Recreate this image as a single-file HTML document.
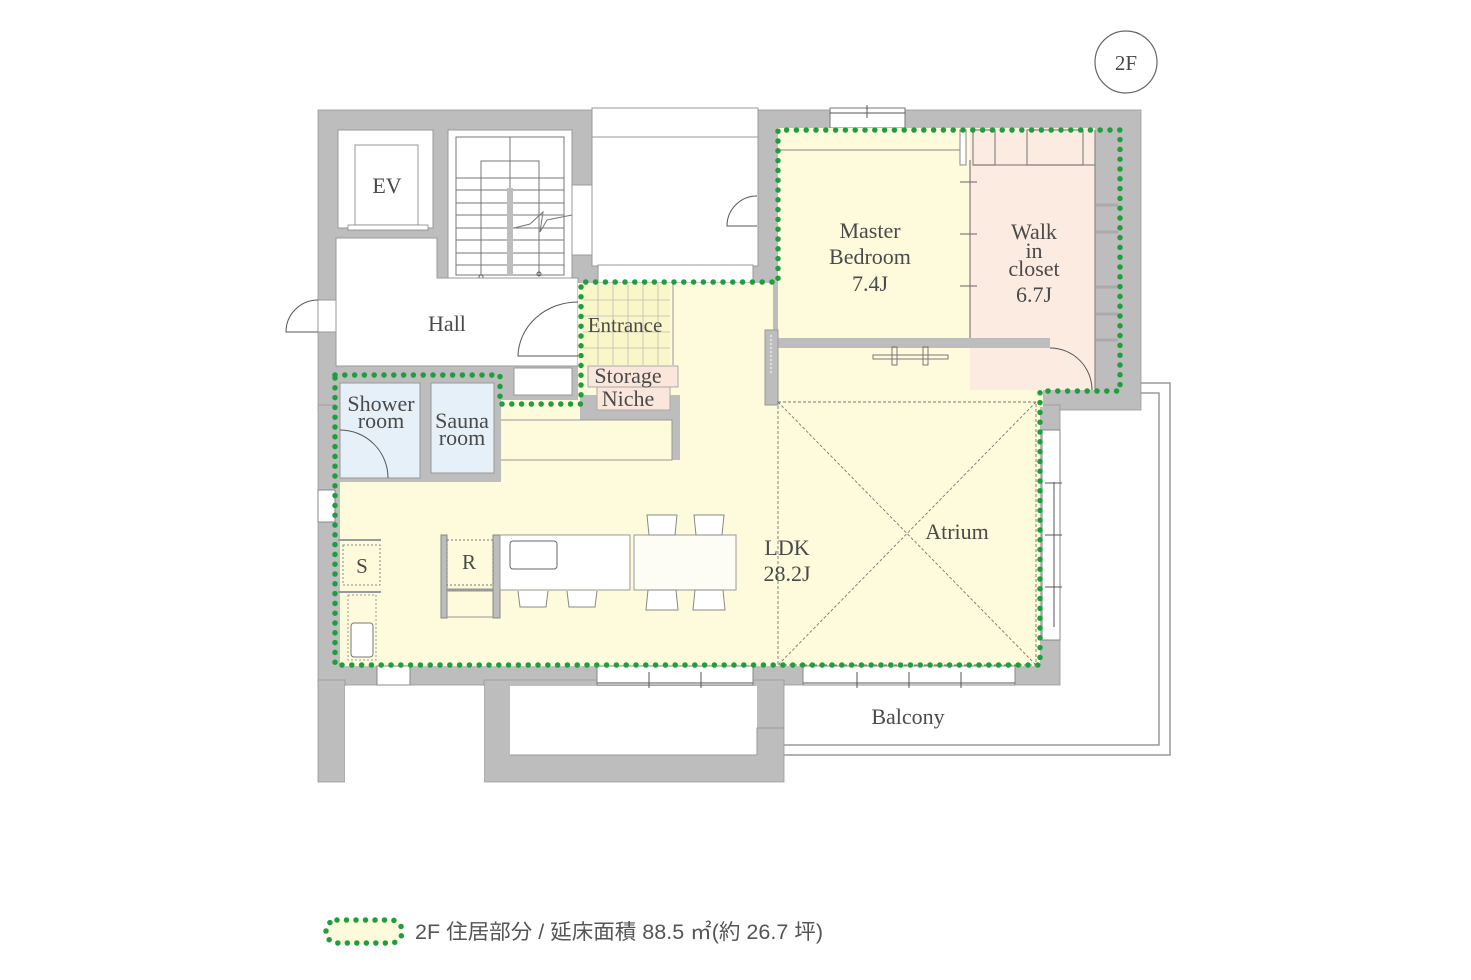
<!DOCTYPE html>
<html><head><meta charset="utf-8"><style>
html,body{margin:0;padding:0;background:#fff}
svg{display:block}
text{font-family:"Liberation Serif",serif;fill:#4a4a4a}
</style></head><body>
<svg width="1471" height="980" viewBox="0 0 1471 980" xmlns="http://www.w3.org/2000/svg">
<circle cx="1126" cy="62" r="31" fill="none" stroke="#666" stroke-width="1.2"/>
<text x="1126" y="70" font-size="21" text-anchor="middle">2F</text>

<path d="M1141 383 H1170 V755 H784" fill="none" stroke="#999" stroke-width="1.5"/>
<path d="M1141 393 H1159 V745 H784" fill="none" stroke="#999" stroke-width="1.5"/>

<g fill="#bdbdbd" stroke="#999" stroke-width="0.8">
<rect x="318" y="110" width="823" height="300"/>
<rect x="318" y="405" width="742" height="280"/>
<rect x="318" y="680" width="27" height="102"/>
<path d="M484 680 H784 V782 H484 Z"/>
</g>
<rect x="345" y="686" width="139" height="100" fill="#fff"/>
<rect x="510" y="686" width="247" height="69" fill="#fff"/>
<path d="M510 755 H757 V728 H784" fill="none" stroke="#999" stroke-width="1"/>

<rect x="592" y="108" width="166" height="158" fill="#fff" stroke="#999"/>
<rect x="598" y="265" width="155" height="18" fill="#fff" stroke="#999"/>
<line x1="592" y1="137" x2="758" y2="137" stroke="#999"/>
<path d="M757 196 A30 30 0 0 0 727 226 H757" fill="none" stroke="#555"/>
<rect x="572" y="185" width="20" height="70" fill="#fff" stroke="#999"/>

<rect x="830" y="108" width="75" height="20" fill="#fff" stroke="#777"/>
<line x1="830" y1="113" x2="905" y2="113" stroke="#555"/>
<line x1="867" y1="105" x2="867" y2="118" stroke="#555"/>

<rect x="338" y="130" width="95" height="98" fill="#fff" stroke="#999"/>
<rect x="355" y="145" width="63" height="80" fill="#fff" stroke="#999"/>
<text x="387" y="193" font-size="22" text-anchor="middle">EV</text>
<rect x="348" y="225" width="80" height="5" fill="#fff" stroke="#888" stroke-width="0.8"/>

<rect x="448" y="130" width="124" height="148" fill="#fff" stroke="#999"/>
<rect x="456" y="137" width="108" height="138" fill="#fff" stroke="#777"/>
<g stroke="#777" stroke-width="1">
<line x1="510" y1="137" x2="510" y2="275"/>
<path d="M481 275 V161 H539 V275" fill="none"/>
<line x1="456" y1="178" x2="564" y2="178"/><line x1="456" y1="190" x2="564" y2="190"/>
<line x1="456" y1="203" x2="564" y2="203"/><line x1="456" y1="215" x2="564" y2="215"/>
<line x1="456" y1="228" x2="564" y2="228"/><line x1="456" y1="240" x2="564" y2="240"/>
<line x1="456" y1="253" x2="564" y2="253"/><line x1="456" y1="265" x2="564" y2="265"/>
<path d="M514 228 L530 224 L543 212 L540 232 L547 220 L572 215" fill="none"/>
</g>
<rect x="507" y="188" width="6" height="87" fill="#bdbdbd"/>
<circle cx="481" cy="277" r="2" fill="none" stroke="#555"/>
<circle cx="539" cy="274" r="2" fill="none" stroke="#555"/>
<text x="481" y="296" font-size="19" text-anchor="middle">UP</text>
<text x="539" y="291" font-size="19" text-anchor="middle">DN</text>

<path d="M336 238 H437 V278 H578 V366 H336 Z" fill="#fff" stroke="#999"/>
<text x="447" y="331" font-size="22" text-anchor="middle">Hall</text>
<path d="M578 302 A60 55 0 0 0 518 356 H578" fill="none" stroke="#555"/>
<rect x="318" y="300" width="18" height="32" fill="#fff" stroke="#999"/>
<path d="M318 300 A32 32 0 0 0 286 332 H318" fill="none" stroke="#555"/>
<rect x="514" y="368" width="58" height="27" fill="#fff" stroke="#999"/>

<g fill="#fdfbdc">
<rect x="340" y="478" width="700" height="188"/>
<rect x="500" y="400" width="540" height="80"/>
<rect x="578" y="283" width="195" height="120"/>
<rect x="778" y="128" width="192" height="210"/>
<rect x="778" y="347" width="265" height="60"/>
</g>
<rect x="970" y="128" width="125" height="262" fill="#fcebe0"/>
<rect x="1040" y="347" width="55" height="43" fill="#fcebe0"/>
<line x1="778" y1="150" x2="960" y2="150" stroke="#888"/>
<rect x="960" y="130" width="6" height="35" fill="#fff" stroke="#888"/>
<line x1="970" y1="160" x2="970" y2="338" stroke="#666"/>
<g stroke="#666"><line x1="960" y1="182" x2="977" y2="182"/><line x1="960" y1="234" x2="977" y2="234"/><line x1="960" y1="286" x2="977" y2="286"/></g>
<g fill="none" stroke="#888" stroke-width="1.2">
<rect x="973" y="130" width="22" height="35"/><rect x="1027" y="130" width="56" height="35"/>
<line x1="1095" y1="130" x2="1095" y2="390"/>
<line x1="973" y1="165" x2="1095" y2="165"/>
</g>
<g stroke="#aaa" stroke-width="3">
<line x1="1096" y1="205" x2="1118" y2="205"/><line x1="1096" y1="232" x2="1118" y2="232"/>
<line x1="1096" y1="287" x2="1118" y2="287"/><line x1="1096" y1="314" x2="1118" y2="314"/>
<line x1="1096" y1="340" x2="1118" y2="340"/>
</g>
<rect x="778" y="338" width="272" height="10" fill="#bdbdbd"/>
<rect x="765" y="330" width="13" height="75" fill="#bdbdbd" stroke="#999"/>
<line x1="771" y1="335" x2="771" y2="375" stroke="#fff" stroke-dasharray="2 2"/>
<path d="M1050 348 A42 42 0 0 1 1092 390" fill="none" stroke="#555"/>
<g fill="none" stroke="#777"><rect x="873" y="355" width="75" height="4"/><rect x="892" y="347" width="5" height="18"/><rect x="923" y="347" width="5" height="18"/></g>
<text x="870" y="238" font-size="22" text-anchor="middle">Master</text>
<text x="870" y="264" font-size="22" text-anchor="middle">Bedroom</text>
<text x="870" y="291" font-size="22" text-anchor="middle">7.4J</text>
<text x="1034" y="239" font-size="22" text-anchor="middle">Walk</text>
<text x="1034" y="258" font-size="22" text-anchor="middle">in</text>
<text x="1034" y="276" font-size="22" text-anchor="middle">closet</text>
<text x="1034" y="302" font-size="22" text-anchor="middle">6.7J</text>

<rect x="1042" y="430" width="18" height="210" fill="#fff" stroke="#888"/>
<line x1="1054" y1="482" x2="1054" y2="627" stroke="#555"/>
<g stroke="#555"><line x1="1045" y1="483" x2="1062" y2="483"/><line x1="1045" y1="535" x2="1062" y2="535"/><line x1="1045" y1="587" x2="1062" y2="587"/></g>
<rect x="803" y="666" width="212" height="19" fill="#fff" stroke="#888"/>
<line x1="803" y1="683" x2="1015" y2="683" stroke="#555"/>
<g stroke="#555"><line x1="857" y1="672" x2="857" y2="688"/><line x1="909" y1="672" x2="909" y2="688"/><line x1="961" y1="672" x2="961" y2="688"/></g>
<rect x="597" y="666" width="156" height="19" fill="#fff" stroke="#888"/>
<line x1="597" y1="683" x2="753" y2="683" stroke="#555"/>
<g stroke="#555"><line x1="649" y1="672" x2="649" y2="688"/><line x1="701" y1="672" x2="701" y2="688"/></g>
<rect x="377" y="666" width="33" height="19" fill="#fff" stroke="#888"/>
<rect x="318" y="490" width="17" height="32" fill="#fff" stroke="#888"/>

<g stroke="#777" stroke-dasharray="3 2" fill="none" stroke-width="0.9">
<rect x="778" y="402" width="258" height="263"/>
<line x1="778" y1="402" x2="1036" y2="665"/><line x1="1036" y1="402" x2="778" y2="665"/>
</g>
<text x="957" y="539" font-size="22" text-anchor="middle">Atrium</text>
<text x="787" y="555" font-size="22" text-anchor="middle">LDK</text>
<text x="787" y="581" font-size="22" text-anchor="middle">28.2J</text>

<rect x="583" y="283" width="87" height="82" fill="#fbf6c8"/>
<g stroke="#bbb" stroke-width="0.8">
<line x1="598" y1="283" x2="598" y2="365"/><line x1="613" y1="283" x2="613" y2="365"/><line x1="628" y1="283" x2="628" y2="365"/><line x1="643" y1="283" x2="643" y2="365"/><line x1="658" y1="283" x2="658" y2="365"/>
<line x1="583" y1="300" x2="670" y2="300"/><line x1="583" y1="316" x2="670" y2="316"/><line x1="583" y1="332" x2="670" y2="332"/><line x1="583" y1="348" x2="670" y2="348"/>
</g>
<line x1="673" y1="283" x2="673" y2="365" stroke="#999"/>
<text x="625" y="332" font-size="21" text-anchor="middle">Entrance</text>
<rect x="580" y="395" width="100" height="25" fill="#bdbdbd"/>
<rect x="672" y="395" width="8" height="65" fill="#bdbdbd"/>
<rect x="500" y="420" width="172" height="40" fill="#fdfbdc" stroke="#999"/>
<rect x="588" y="366" width="90" height="21" fill="#fbe6dc" stroke="#aaa"/>
<rect x="597" y="387" width="73" height="23" fill="#fbe6dc" stroke="#aaa"/>
<text x="628" y="383" font-size="22" text-anchor="middle">Storage</text>
<text x="628" y="406" font-size="22" text-anchor="middle">Niche</text>

<rect x="336" y="376" width="165" height="106" fill="#bdbdbd"/>
<rect x="340" y="383" width="80" height="95" fill="#e6f0f8" stroke="#999"/>
<rect x="431" y="383" width="63" height="90" fill="#e6f0f8" stroke="#999"/>
<path d="M340 430 A48 48 0 0 1 388 478" fill="none" stroke="#555"/>
<text x="381" y="411" font-size="22" text-anchor="middle">Shower</text>
<text x="381" y="428" font-size="22" text-anchor="middle">room</text>
<text x="462" y="428" font-size="22" text-anchor="middle">Sauna</text>
<text x="462" y="445" font-size="22" text-anchor="middle">room</text>

<line x1="338" y1="540" x2="381" y2="540" stroke="#999" stroke-width="2"/>
<rect x="343" y="545" width="37" height="40" fill="none" stroke="#888" stroke-dasharray="2 2"/>
<text x="362" y="573" font-size="21" text-anchor="middle">S</text>
<line x1="338" y1="592" x2="381" y2="592" stroke="#999" stroke-width="2"/>
<rect x="348" y="595" width="28" height="65" fill="none" stroke="#999" stroke-dasharray="2 2"/>
<rect x="351" y="623" width="22" height="34" rx="3" fill="#fff" stroke="#777"/>
<rect x="441" y="535" width="6" height="83" fill="#bdbdbd" stroke="#888"/>
<rect x="493" y="535" width="7" height="83" fill="#bdbdbd" stroke="#888"/>
<rect x="447" y="540" width="46" height="45" fill="none" stroke="#777" stroke-dasharray="2 2"/>
<line x1="447" y1="590" x2="493" y2="590" stroke="#999" stroke-width="3"/>
<line x1="447" y1="617" x2="493" y2="617" stroke="#999"/>
<text x="469" y="569" font-size="21" text-anchor="middle">R</text>
<rect x="500" y="535" width="130" height="55" fill="#fff" stroke="#999"/>
<rect x="510" y="541" width="47" height="28" rx="3" fill="#fff" stroke="#666"/>
<rect x="634" y="535" width="102" height="55" fill="#fdfdf5" stroke="#999"/>
<g fill="#fff" stroke="#888">
<path d="M518 591 L520 607 H546 L548 591"/><path d="M567 591 L569 607 H595 L597 591"/>
<path d="M647 515 H677 L675 535 H649 Z"/><path d="M694 515 H724 L722 535 H696 Z"/>
<path d="M648 590 H676 L678 610 H646 Z"/><path d="M695 590 H723 L725 610 H693 Z"/>
</g>

<path d="M335 375 H500 V404 H581 V282 H778 V130 H1120 V391 H1040 V665 H335 Z" fill="none" stroke="#1e9e3c" stroke-width="5.5" stroke-linecap="round" stroke-dasharray="0 9.8" stroke-linejoin="round"/>

<text x="908" y="724" font-size="22" text-anchor="middle">Balcony</text>

<rect x="326" y="920" width="76" height="23" rx="11" fill="#fdfbdc" stroke="#1e9e3c" stroke-width="5.5" stroke-linecap="round" stroke-dasharray="0 9.5"/>
<text x="415" y="939" font-size="21" textLength="408" lengthAdjust="spacingAndGlyphs" style="font-family:'Liberation Sans','Noto Sans CJK JP',sans-serif;fill:#555">2F 住居部分 / 延床面積 88.5 ㎡(約 26.7 坪)</text>
</svg>
</body></html>
